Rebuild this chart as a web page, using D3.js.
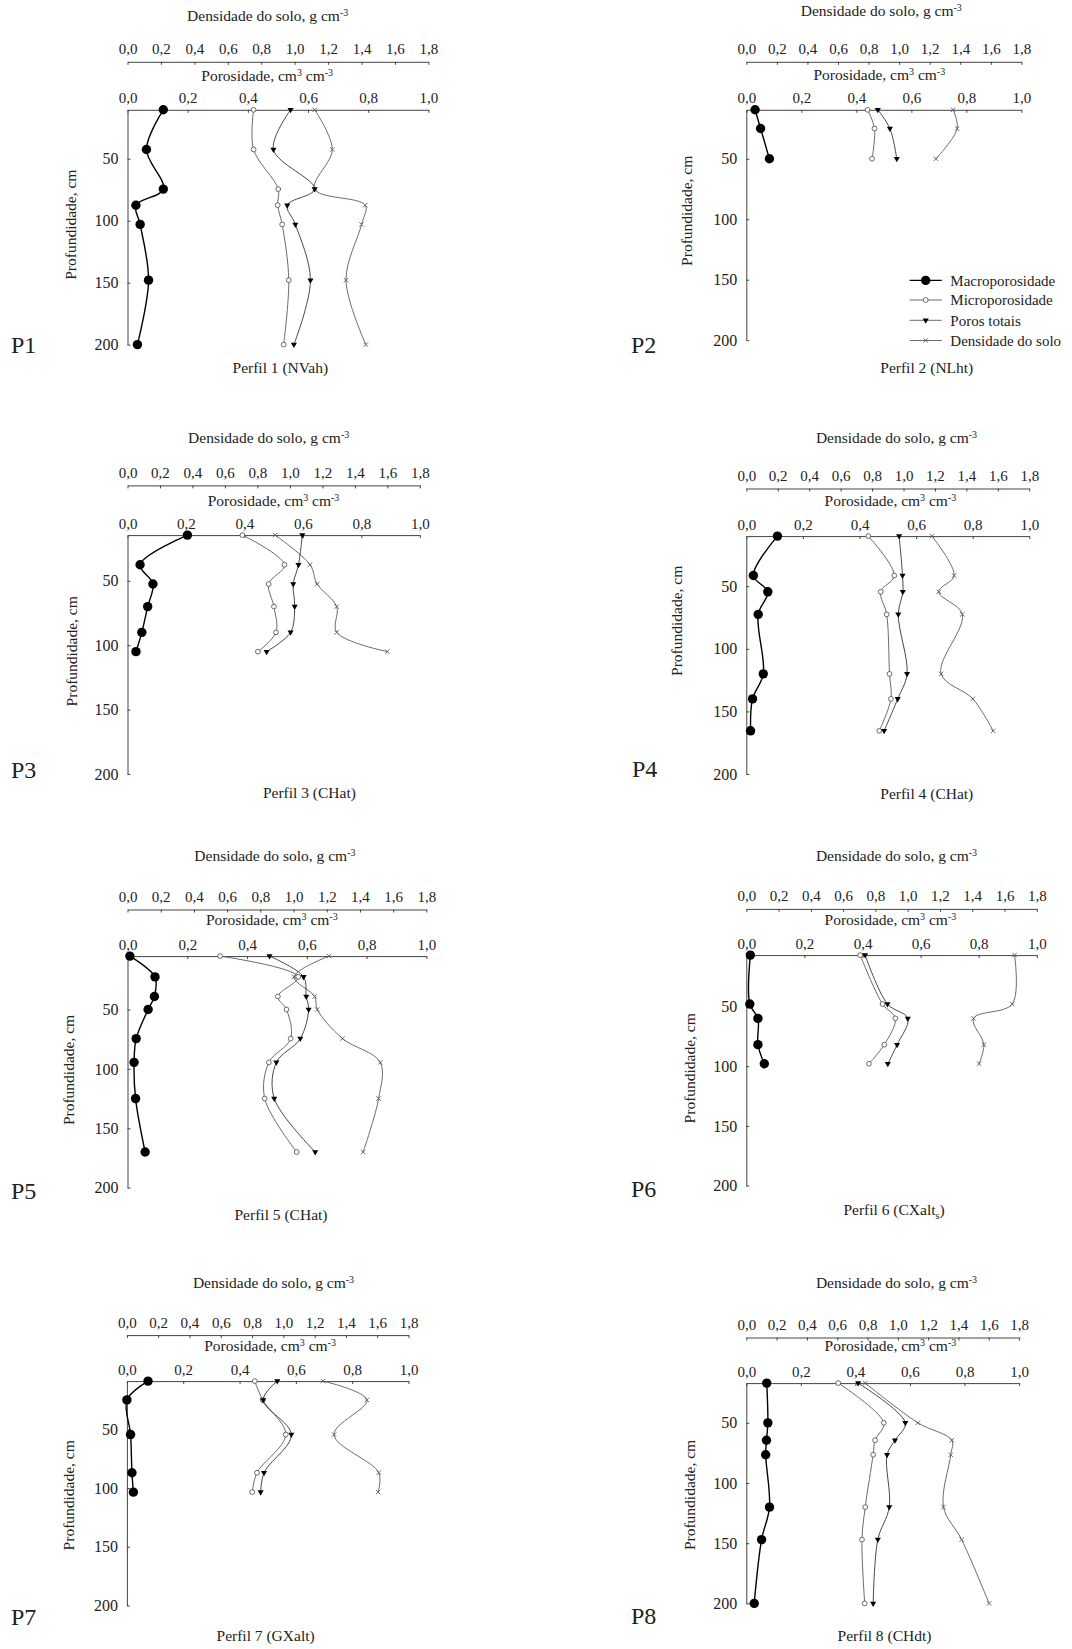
<!DOCTYPE html>
<html><head><meta charset="utf-8">
<script src="https://cdn.jsdelivr.net/npm/d3@7/dist/d3.min.js"></script>
<style>
body{margin:0;background:#fff}
svg text{font-family:"Liberation Serif","Times New Roman",serif !important;fill:#222}
</style>
</head><body>
<svg id="chart" width="1072" height="1649"></svg>
<script>
// ---------- DATA ----------
const profileNames = ["Perfil 1 (NVah)","Perfil 2 (NLht)","Perfil 3 (CHat)","Perfil 4 (CHat)",
  "Perfil 5 (CHat)","Perfil 6 (CXalt_s)","Perfil 7 (GXalt)","Perfil 8 (CHdt)"];
const panelTags = ["P1","P2","P3","P4","P5","P6","P7","P8"];
const seriesNames = ["Macroporosidade","Microporosidade","Poros totais","Densidade do solo"];
const porosityTicks = [0,0.2,0.4,0.6,0.8,1.0];
const densityTicks = [0,0.2,0.4,0.6,0.8,1.0,1.2,1.4,1.6,1.8];
const depthTicks = [50,100,150,200];

// Perfil 1
const depth1 = [10.5,42.5,74.5,87.5,103,148,200];
const macro1 = [0.119,0.063,0.119,0.028,0.042,0.070,0.033];
const micro1 = [0.419,0.419,0.501,0.499,0.514,0.536,0.519];
const total1 = [0.542,0.485,0.622,0.531,0.558,0.608,0.553];
const dens1  = [1.12,1.225,1.12,1.422,1.40,1.307,1.426];
// Perfil 2
const depth2 = [9.5,25,50];
const macro2 = [0.032,0.052,0.084];
const micro2 = [0.441,0.466,0.457];
const total2 = [0.478,0.522,0.547];
const dens2  = [1.353,1.380,1.241];
// Perfil 3
const depth3 = [14.5,37.5,52.5,70,90,105];
const macro3 = [0.205,0.043,0.087,0.069,0.049,0.029];
const micro3 = [0.393,0.537,0.483,0.501,0.508,0.446];
const total3 = [0.598,0.585,0.567,0.572,0.558,0.476];
const dens3  = [0.909,1.124,1.168,1.288,1.288,1.600];
// Perfil 4
const depth4 = [10,41.5,54.5,72.5,120,140,165.5];
const macro4 = [0.110,0.025,0.076,0.042,0.060,0.022,0.015];
const micro4 = [0.431,0.523,0.475,0.496,0.506,0.511,0.470];
const total4 = [0.540,0.552,0.553,0.537,0.568,0.535,0.487];
const dens4  = [1.180,1.322,1.224,1.374,1.239,1.441,1.570];
// Perfil 5
const depth5 = [5,22.5,39,50,74.5,94.5,125,170];
const macro5 = [0.008,0.092,0.090,0.069,0.029,0.022,0.027,0.059];
const micro5 = [0.310,0.571,0.503,0.532,0.546,0.473,0.459,0.566];
const total5 = [0.475,0.589,0.598,0.606,0.578,0.498,0.491,0.628];
const dens5  = [1.213,1.003,1.127,1.143,1.295,1.522,1.512,1.419];
// Perfil 6
const depth6 = [7,48,60,82,98];
const macro6 = [0.014,0.012,0.040,0.040,0.062];
const micro6 = [0.392,0.469,0.513,0.475,0.422];
const total6 = [0.409,0.486,0.556,0.519,0.487];
const dens6  = [1.662,1.648,1.408,1.472,1.442];
// Perfil 7
const depth7 = [9,25,54.5,87,103.5];
const macro7 = [0.075,0.0,0.013,0.018,0.023];
const micro7 = [0.454,0.482,0.564,0.462,0.445];
const total7 = [0.534,0.484,0.584,0.487,0.475];
const dens7  = [1.254,1.534,1.324,1.610,1.606];
// Perfil 8
const depth8 = [17,50,64.5,76.5,120,147,200];
const macro8 = [0.075,0.079,0.074,0.071,0.085,0.056,0.029];
const micro8 = [0.337,0.504,0.472,0.465,0.436,0.424,0.434];
const total8 = [0.410,0.583,0.545,0.516,0.524,0.482,0.465];
const dens8  = [0.785,1.132,1.356,1.349,1.301,1.421,1.602];

const depths = [depth1,depth2,depth3,depth4,depth5,depth6,depth7,depth8];
const macros = [macro1,macro2,macro3,macro4,macro5,macro6,macro7,macro8];
const micros = [micro1,micro2,micro3,micro4,micro5,micro6,micro7,micro8];
const totals = [total1,total2,total3,total4,total5,total6,total7,total8];
const denss  = [dens1,dens2,dens3,dens4,dens5,dens6,dens7,dens8];

// ---------- LAYOUT ----------
const layout = [
 {x0:127.5,x1:428.4,densY:61.8,porY:109.8,y200:344.6,dt:[267.7,21],pt:[267.2,81.1],yl:[70.1,224.7],pl:[23.6,344.6],pf:[280.3,373]},
 {x0:746.3,x1:1021.4,densY:61.8,porY:109.8,y200:340.2,dt:[881.3,15.9],pt:[879.3,80.1],yl:[686.5,210.8],pl:[643.7,344.6],pf:[926.8,373]},
 {x0:127.5,x1:419.8,densY:485.4,porY:535.1,y200:774,dt:[268.7,442.9],pt:[273.5,505.7],yl:[71.8,651.3],pl:[23.6,769.9],pf:[309.4,798.3]},
 {x0:746.3,x1:1029.3,densY:488.5,porY:536.1,y200:774,dt:[896.5,442.9],pt:[890.4,505.7],yl:[676.2,620.9],pl:[644.7,768.9],pf:[926.8,799.4]},
 {x0:127.5,x1:426.4,densY:909.5,porY:956.1,y200:1187.6,dt:[274.9,861.2],pt:[271.8,925.4],yl:[68.4,1070],pl:[23.6,1190.4],pf:[281,1220.3]},
 {x0:746.3,x1:1036.8,densY:908.9,porY:955.1,y200:1185.6,dt:[896.5,861.2],pt:[890.4,925.4],yl:[689.2,1068.3],pl:[643.7,1188.4],pf:[894,1215.1]},
 {x0:126.9,x1:408.5,densY:1335.1,porY:1381.1,y200:1605.5,dt:[273.5,1287.8],pt:[270.1,1351.1],yl:[68.4,1495.3],pl:[23.6,1616.9],pf:[265.6,1641]},
 {x0:746.3,x1:1019.1,densY:1337.5,porY:1383.1,y200:1603.4,dt:[896.5,1287.8],pt:[890.4,1351.1],yl:[689.2,1495],pl:[643.7,1615.8],pf:[884.5,1641]}
];
const legendRows = [280.4,300,320.3,340.5];
const legendX = {l0:909.6,l1:941.8,mk:925.7,tx:950.3};

const AX = "#444", GR = "#5a5a5a";
const FONT = '"Liberation Serif","Times New Roman",serif';
const fmt = v => d3.format(".1f")(v).replace(".", ",");
const svg = d3.select("#chart");

function styleAxis(g, fs){
  g.attr("font-family", FONT).attr("font-size", fs);
  g.selectAll("path.domain").attr("stroke", AX).attr("stroke-width", 1);
  g.selectAll(".tick line").attr("stroke", AX).attr("stroke-width", 1);
  g.selectAll(".tick text").attr("font-size", fs).style("font-family", FONT).attr("fill","#222");
}

function richTitle(g, x, y, parts, fs){
  const t = g.append("text").attr("x", x).attr("y", y).attr("dy","0.35em")
    .attr("text-anchor","middle").attr("font-size",fs).style("font-family",FONT);
  let shift = 0;
  parts.forEach(p => {
    const want = p.sup ? -5 : (p.sub ? 4 : 0);
    const ts = t.append("tspan").attr("dy", want - shift);
    if (p.sup || p.sub) ts.attr("font-size", 10);
    ts.text(p.sup || p.sub || p.t);
    shift = want;
  });
  return t;
}

const sym = {
  macro: (sel)=> sel.append("circle").attr("r",4.7).attr("fill","#000"),
  micro: (sel)=> sel.append("circle").attr("r",2.4).attr("fill","#fff").attr("stroke",GR).attr("stroke-width",0.9),
  total: (sel)=> sel.append("path").attr("d", d3.symbol(d3.symbolTriangle, 16)()).attr("transform","rotate(180)").attr("fill","#000"),
  dens:  (sel)=> sel.append("path").attr("d","M-2.2,-2.2L2.2,2.2M-2.2,2.2L2.2,-2.2").attr("stroke",GR).attr("stroke-width",0.9).attr("fill","none")
};

profileNames.forEach((name, i) => {
  const L = layout[i];
  const g = svg.append("g");
  const xP = d3.scaleLinear().domain([0,1]).range([L.x0, L.x1]);
  const xD = d3.scaleLinear().domain([0,1.8]).range([L.x0, L.x1]);
  const y = d3.scaleLinear().domain([depths[i][0], 200]).range([L.porY, L.y200]);

  const gd = g.append("g").attr("transform",`translate(0,${L.densY})`)
    .call(d3.axisTop(xD).tickValues(densityTicks).tickSize(-3).tickSizeOuter(0).tickPadding(7.5).tickFormat(fmt));
  styleAxis(gd, 15);
  const gp = g.append("g").attr("transform",`translate(0,${L.porY})`)
    .call(d3.axisTop(xP).tickValues(porosityTicks).tickSize(-3).tickSizeOuter(0).tickPadding(6.5).tickFormat(fmt));
  styleAxis(gp, 15);
  const gy = g.append("g").attr("transform",`translate(${L.x0},0)`)
    .call(d3.axisLeft(y).tickValues(depthTicks).tickSize(-3).tickSizeOuter(0).tickPadding(9).tickFormat(d3.format("d")));
  styleAxis(gy, 16);

  richTitle(g, L.dt[0], L.dt[1], [{t:"Densidade do solo, g cm"},{sup:"-3"}], 15.5);
  richTitle(g, L.pt[0], L.pt[1], [{t:"Porosidade, cm"},{sup:"3"},{t:" cm"},{sup:"-3"}], 15.5);
  g.append("text").attr("transform",`translate(${L.yl[0]},${L.yl[1]}) rotate(-90)`)
    .attr("dy","0.35em").attr("text-anchor","middle").attr("font-size",15.5).style("font-family",FONT)
    .text("Profundidade, cm");
  g.append("text").attr("x",L.pl[0]).attr("y",L.pl[1]).attr("dy","0.35em").style("font-family",FONT)
    .attr("text-anchor","middle").attr("font-size",24).text(panelTags[i]);
  const m = name.match(/^(.*)_(\w)(\))$/);
  richTitle(g, L.pf[0], L.pf[1], m ? [{t:m[1]},{sub:m[2]},{t:m[3]}] : [{t:name}], 15.5);

  const series = [
    {key:"dens",  vals:denss[i],  x:xD, color:GR, w:0.9},
    {key:"micro", vals:micros[i], x:xP, color:GR, w:0.9},
    {key:"total", vals:totals[i], x:xP, color:"#333", w:0.9},
    {key:"macro", vals:macros[i], x:xP, color:"#000", w:1.4}
  ];
  series.forEach(s => {
    const pts = s.vals.map((v,j)=>[s.x(v), y(depths[i][j])]);
    g.append("path").attr("d", d3.line().curve(d3.curveCatmullRom.alpha(0.5))(pts))
      .attr("fill","none").attr("stroke",s.color).attr("stroke-width",s.w);
    pts.forEach(p => sym[s.key](g.append("g").attr("transform",`translate(${p[0]},${p[1]})`)));
  });
});

// legend (inside panel P2)
const legKeys = ["macro","micro","total","dens"];
const legG = svg.append("g");
seriesNames.forEach((n,k)=>{
  const yy = legendRows[k];
  legG.append("line").attr("x1",legendX.l0).attr("x2",legendX.l1).attr("y1",yy).attr("y2",yy)
    .attr("stroke", k===0?"#000":GR).attr("stroke-width", k===0?1.4:0.9);
  sym[legKeys[k]](legG.append("g").attr("transform",`translate(${legendX.mk},${yy})`));
  legG.append("text").attr("x",legendX.tx).attr("y",yy).attr("dy","0.35em").attr("font-size",15)
    .style("font-family",FONT).text(n);
});
</script>
</body></html>
